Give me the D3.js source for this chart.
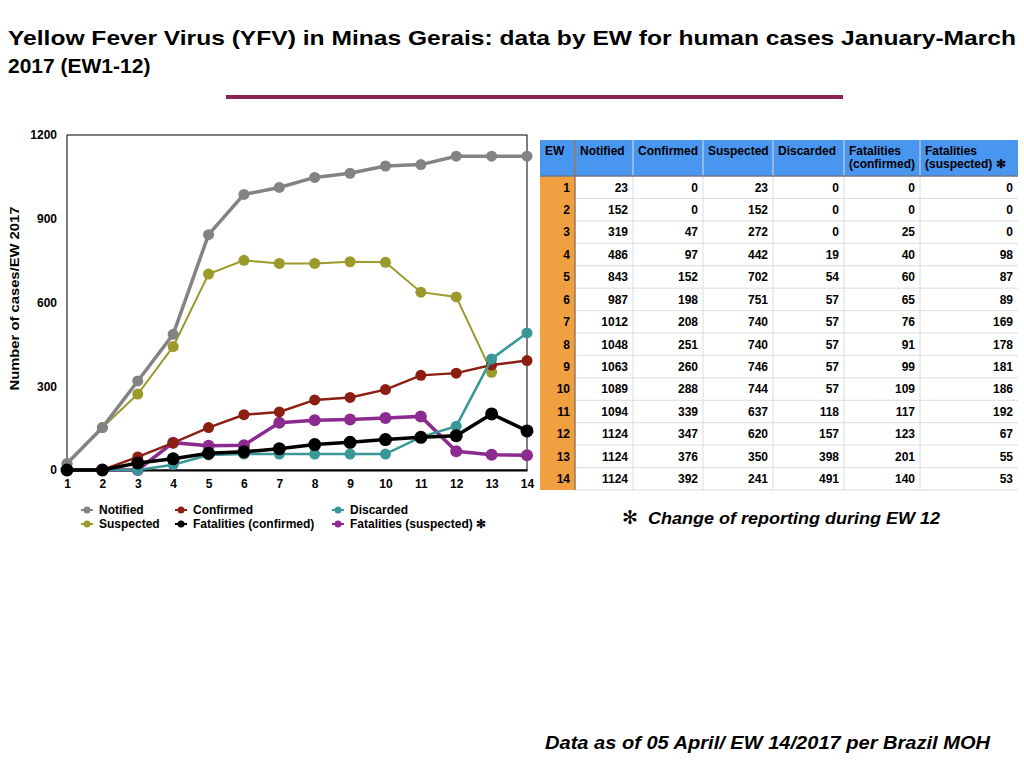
<!DOCTYPE html>
<html>
<head>
<meta charset="utf-8">
<script src="https://cdn.jsdelivr.net/npm/d3@7"></script>
<style>
  body { margin: 0; background: #fff; }
  svg { display: block; font-family: "Liberation Sans", Arial, sans-serif; }
  .tick-label { font-size: 12px; font-weight: bold; }
  .cell { font-size: 12px; font-weight: bold; }
</style>
</head>
<body>
<script>
//epidemiological weeks
var weeks = [1, 2, 3, 4, 5, 6, 7, 8, 9, 10, 11, 12, 13, 14];

//series values by EW
var notified = [23, 152, 319, 486, 843, 987, 1012, 1048, 1063, 1089, 1094, 1124, 1124, 1124];
var confirmed = [0, 0, 47, 97, 152, 198, 208, 251, 260, 288, 339, 347, 376, 392];
var suspected = [23, 152, 272, 442, 702, 751, 740, 740, 746, 744, 637, 620, 350, 241];
var discarded = [0, 0, 0, 19, 54, 57, 57, 57, 57, 57, 118, 157, 398, 491];
var fatalConfirmed = [0, 0, 25, 40, 60, 65, 76, 91, 99, 109, 117, 123, 201, 140];
var fatalSuspected = [0, 0, 0, 98, 87, 89, 169, 178, 181, 186, 192, 67, 55, 53];

//the chart stops the suspected line at EW 13
var suspectedLastWeek = 13;

var yTicks = [0, 300, 600, 900, 1200];

var tableHeaders = [["EW"], ["Notified"], ["Confirmed"], ["Suspected"], ["Discarded"],
                    ["Fatalities", "(confirmed)"], ["Fatalities", "(suspected) \u273B"]];

window.onload = drawSlide();

function drawSlide(){

    var width = 1024,
        height = 768;

    var svg = d3.select("body")
        .append("svg")
        .attr("width", width)
        .attr("height", height);

    //title
    var title = svg.append("g")
        .attr("font-weight", "bold")
        .attr("font-size", "21px");
    title.append("text")
        .attr("x", 8).attr("y", 45)
        .attr("textLength", 1008)
        .attr("lengthAdjust", "spacingAndGlyphs")
        .text("Yellow Fever Virus (YFV) in Minas Gerais: data by EW for human cases January-March");
    title.append("text")
        .attr("x", 8).attr("y", 73)
        .text("2017 (EW1-12)");

    svg.append("rect")
        .attr("x", 226).attr("y", 95)
        .attr("width", 617).attr("height", 4)
        .attr("fill", "#8b2452");

    //chart scales
    var x = d3.scaleLinear().domain([1, 14]).range([67, 527]);
    var y = d3.scaleLinear().domain([0, 1200]).range([470, 135]);

    //frame
    svg.append("rect")
        .attr("x", x(1)).attr("y", y(1200))
        .attr("width", x(14) - x(1)).attr("height", y(0) - y(1200))
        .attr("fill", "none")
        .attr("stroke", "#000")
        .attr("stroke-width", 1);

    //axes (labels only)
    var yAxis = svg.append("g")
        .attr("transform", "translate(" + x(1) + ",0)")
        .call(d3.axisLeft(y).tickValues(yTicks).tickFormat(d3.format("d")).tickSize(0).tickPadding(10));
    yAxis.select(".domain").remove();
    yAxis.selectAll("text").attr("class", "tick-label").attr("fill", "#000")
        .attr("font-family", "Liberation Sans, Arial, sans-serif");

    var xAxis = svg.append("g")
        .attr("transform", "translate(0," + y(0) + ")")
        .call(d3.axisBottom(x).tickValues(weeks).tickFormat(d3.format("d")).tickSize(0).tickPadding(9));
    xAxis.select(".domain").attr("stroke", "#000").attr("stroke-width", 2);
    xAxis.selectAll("text").attr("class", "tick-label").attr("fill", "#000")
        .attr("font-family", "Liberation Sans, Arial, sans-serif");

    svg.append("text")
        .attr("transform", "translate(19," + (y(600) - 4) + ") rotate(-90)")
        .attr("text-anchor", "middle")
        .attr("font-size", "13px")
        .attr("font-weight", "bold")
        .attr("textLength", 184)
        .attr("lengthAdjust", "spacingAndGlyphs")
        .text("Number of cases/EW 2017");

    //series definitions
    var series = [
        {name: "Fatalities (suspected) \u273B", values: fatalSuspected, color: "#8b2a8f", width: 3.5, r: 6},
        {name: "Suspected", values: suspected.slice(0, suspectedLastWeek), color: "#9c9a2a", width: 2, r: 5.5},
        {name: "Notified", values: notified, color: "#838383", width: 3.5, r: 5.5},
        {name: "Confirmed", values: confirmed, color: "#8c1f12", width: 2.5, r: 5.5},
        {name: "Discarded", values: discarded, color: "#3a9797", width: 2.5, r: 5.5},
        {name: "Fatalities (confirmed)", values: fatalConfirmed, color: "#000000", width: 3.5, r: 6.5}
    ];

    var line = d3.line()
        .x(function(d, i){ return x(weeks[i]); })
        .y(function(d){ return y(d); });

    var seriesG = svg.selectAll(".series")
        .data(series)
        .enter()
        .append("g")
        .attr("class", "series");

    seriesG.append("path")
        .attr("d", function(d){ return line(d.values); })
        .attr("fill", "none")
        .attr("stroke", function(d){ return d.color; })
        .attr("stroke-width", function(d){ return d.width; });

    seriesG.selectAll("circle")
        .data(function(d){ return d.values.map(function(v, i){ return {v: v, i: i, s: d}; }); })
        .enter()
        .append("circle")
        .attr("cx", function(d){ return x(weeks[d.i]); })
        .attr("cy", function(d){ return y(d.v); })
        .attr("r", function(d){ return d.s.r; })
        .attr("fill", function(d){ return d.s.color; });

    //legend
    var legendItems = [
        {name: "Notified", color: "#838383", lx: 87, ly: 510},
        {name: "Confirmed", color: "#8c1f12", lx: 181, ly: 510},
        {name: "Discarded", color: "#3a9797", lx: 338, ly: 510},
        {name: "Suspected", color: "#9c9a2a", lx: 87, ly: 524},
        {name: "Fatalities (confirmed)", color: "#000000", lx: 181, ly: 524},
        {name: "Fatalities (suspected) \u273B", color: "#8b2a8f", lx: 338, ly: 524}
    ];
    var legend = svg.selectAll(".legend")
        .data(legendItems)
        .enter()
        .append("g")
        .attr("class", "legend")
        .attr("transform", function(d){ return "translate(" + d.lx + "," + d.ly + ")"; });
    legend.append("line")
        .attr("x1", -6).attr("x2", 6)
        .attr("stroke", function(d){ return d.color; })
        .attr("stroke-width", 2);
    legend.append("circle")
        .attr("r", 3.5)
        .attr("fill", function(d){ return d.color; });
    legend.append("text")
        .attr("x", 12).attr("y", 4)
        .attr("font-size", "12px")
        .attr("font-weight", "bold")
        .text(function(d){ return d.name; });

    //table
    var colEdges = [540, 575, 633, 703, 773, 844, 920, 1018];
    var headTop = 140, headBottom = 176, rowH = 22.43;
    var tableCols = [weeks, notified, confirmed, suspected, discarded, fatalConfirmed, fatalSuspected];
    var table = svg.append("g");

    table.append("rect")
        .attr("x", colEdges[0]).attr("y", headTop)
        .attr("width", colEdges[7] - colEdges[0]).attr("height", headBottom - headTop)
        .attr("fill", "#4996f0");
    table.append("rect")
        .attr("x", colEdges[0]).attr("y", headBottom)
        .attr("width", colEdges[1] - colEdges[0]).attr("height", rowH * weeks.length)
        .attr("fill", "#f0a040");

    //grid
    weeks.forEach(function(w, i){
        table.append("line")
            .attr("x1", colEdges[1]).attr("x2", colEdges[7])
            .attr("y1", headBottom + rowH * (i + 1)).attr("y2", headBottom + rowH * (i + 1))
            .attr("stroke", "#dcdcdc");
    });
    colEdges.slice(1, 7).forEach(function(cx, j){
        table.append("line")
            .attr("x1", cx).attr("x2", cx)
            .attr("y1", headTop).attr("y2", headBottom + rowH * weeks.length)
            .attr("stroke", j === 0 ? "#9a7a50" : "#dcdcdc")
            .attr("stroke-width", j === 0 ? 1.5 : 1);
    });
    table.append("line")
        .attr("x1", colEdges[0]).attr("x2", colEdges[7])
        .attr("y1", headBottom).attr("y2", headBottom)
        .attr("stroke", "#6a7a90").attr("stroke-width", 1.5);

    //header text
    tableHeaders.forEach(function(lines, j){
        lines.forEach(function(t, k){
            table.append("text")
                .attr("class", "cell")
                .attr("x", colEdges[j] + 5)
                .attr("y", headTop + 15 + k * 13)
                .text(t);
        });
    });

    //body text
    tableCols.forEach(function(col, j){
        col.forEach(function(v, i){
            table.append("text")
                .attr("class", "cell")
                .attr("text-anchor", "end")
                .attr("x", colEdges[j + 1] - 5)
                .attr("y", headBottom + rowH * i + 15.5)
                .text(v);
        });
    });

    //footnotes
    var note = svg.append("text")
        .attr("x", 622).attr("y", 524)
        .attr("font-size", "17px")
        .attr("font-weight", "bold");
    note.append("tspan")
        .attr("font-weight", "normal")
        .attr("font-size", "19px")
        .text("\u273B");
    note.append("tspan")
        .attr("x", 648)
        .attr("font-style", "italic")
        .attr("textLength", 292)
        .attr("lengthAdjust", "spacingAndGlyphs")
        .text("Change of reporting during EW 12");

    svg.append("text")
        .attr("x", 545).attr("y", 749)
        .attr("font-size", "18px")
        .attr("font-weight", "bold")
        .attr("font-style", "italic")
        .attr("textLength", 445)
        .attr("lengthAdjust", "spacingAndGlyphs")
        .text("Data as of 05 April/ EW 14/2017 per Brazil MOH");
}
</script>
</body>
</html>
